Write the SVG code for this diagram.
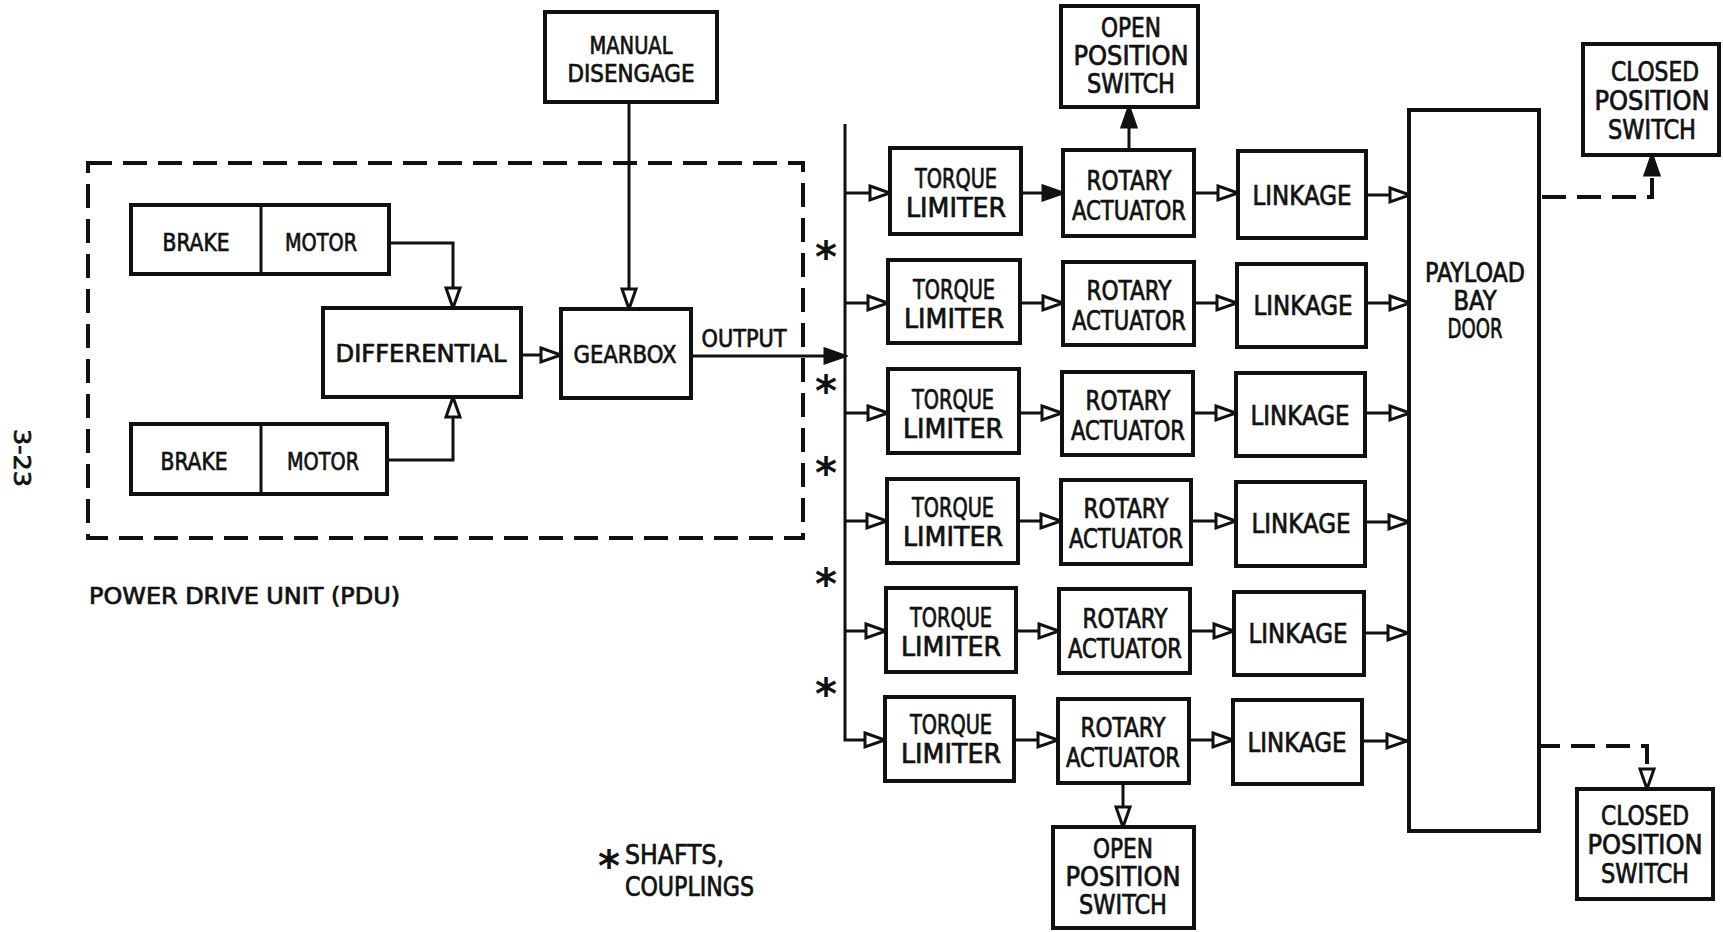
<svg xmlns="http://www.w3.org/2000/svg" width="1723" height="932" viewBox="0 0 1723 932">
<style>
.box{fill:#fff;stroke:#111;stroke-width:4}
.t{font-family:"Liberation Sans Narrow","DejaVu Sans Condensed","Liberation Sans",sans-serif;font-size:27px;text-anchor:middle;fill:#111;stroke:#111;stroke-width:0.7}
.s{font-size:25px}
.ln{fill:none;stroke:#111;stroke-width:3}
.dash{stroke-dasharray:24 11;stroke-width:4}
.ast{font-family:"DejaVu Sans",sans-serif;font-size:42px;font-weight:bold;text-anchor:middle;fill:#111}
</style>
<defs>
<marker id="ao" viewBox="-3 -3 26 20" refX="20" refY="7" markerWidth="26" markerHeight="20" markerUnits="userSpaceOnUse" orient="auto"><path d="M0,0 L20,7 L0,14 Z" fill="#fff" stroke="#111" stroke-width="3"/></marker>
<marker id="af" viewBox="-3 -3 26 20" refX="20" refY="7" markerWidth="26" markerHeight="20" markerUnits="userSpaceOnUse" orient="auto"><path d="M0,0 L20,7 L0,14 Z" fill="#111" stroke="#111" stroke-width="3"/></marker>
</defs>
<rect width="1723" height="932" fill="#fff"/>

<!-- PDU boundary -->
<g id="pdu">
<rect x="88" y="163" width="715" height="375" fill="none" stroke="#111" stroke-width="4" stroke-dasharray="24 11"/>
<text class="t" x="89" y="604" style="text-anchor:start;font-size:23px" textLength="311" lengthAdjust="spacingAndGlyphs">POWER DRIVE UNIT (PDU)</text>
</g>

<g id="page-number"><text class="t" style="font-size:23px" transform="translate(14,458) rotate(90)" textLength="58" lengthAdjust="spacingAndGlyphs">3-23</text></g>

<!-- connectors -->
<g id="connectors">
<path class="ln" d="M629,102 V309" marker-end="url(#ao)"/>
<path class="ln" d="M389,243 H453 V308" marker-end="url(#ao)"/>
<path class="ln" d="M387,460 H453 V397" marker-end="url(#ao)"/>
<path class="ln" d="M521,355 H561" marker-end="url(#ao)"/>
<path class="ln" d="M691,356 H845" marker-end="url(#af)"/>
<path class="ln" d="M845,124 V740 H885" marker-end="url(#ao)"/>
<path class="ln" d="M845,193 H890" marker-end="url(#ao)"/>
<path class="ln" d="M845,303 H888" marker-end="url(#ao)"/>
<path class="ln" d="M845,413 H888" marker-end="url(#ao)"/>
<path class="ln" d="M845,521 H887" marker-end="url(#ao)"/>
<path class="ln" d="M845,631 H886" marker-end="url(#ao)"/>
<!-- TL to RA -->
<path class="ln" d="M1021,193 H1063" marker-end="url(#af)"/>
<path class="ln" d="M1020,303 H1063" marker-end="url(#ao)"/>
<path class="ln" d="M1019,413 H1062" marker-end="url(#ao)"/>
<path class="ln" d="M1018,521 H1061" marker-end="url(#ao)"/>
<path class="ln" d="M1016,631 H1059" marker-end="url(#ao)"/>
<path class="ln" d="M1014,740 H1058" marker-end="url(#ao)"/>
<!-- RA to LK -->
<path class="ln" d="M1194,193 H1238" marker-end="url(#ao)"/>
<path class="ln" d="M1194,303 H1237" marker-end="url(#ao)"/>
<path class="ln" d="M1193,413 H1236" marker-end="url(#ao)"/>
<path class="ln" d="M1191,521 H1236" marker-end="url(#ao)"/>
<path class="ln" d="M1190,631 H1234" marker-end="url(#ao)"/>
<path class="ln" d="M1189,740 H1233" marker-end="url(#ao)"/>
<!-- LK to PBD -->
<path class="ln" d="M1366,195 H1410" marker-end="url(#ao)"/>
<path class="ln" d="M1366,303 H1410" marker-end="url(#ao)"/>
<path class="ln" d="M1365,413 H1410" marker-end="url(#ao)"/>
<path class="ln" d="M1365,522 H1409" marker-end="url(#ao)"/>
<path class="ln" d="M1364,633 H1408" marker-end="url(#ao)"/>
<path class="ln" d="M1362,741 H1407" marker-end="url(#ao)"/>
<!-- switches -->
<path class="ln" d="M1129,150 V107" marker-end="url(#af)"/>
<path class="ln" d="M1123,783 V827" marker-end="url(#ao)"/>
<path class="ln dash" d="M1542,197 H1652 V155" marker-end="url(#af)"/>
<path class="ln dash" d="M1536,746 H1647 V789" marker-end="url(#ao)"/>
</g>

<g id="shaft-marks">
<text class="ast" x="826" y="272">*</text>
<text class="ast" x="826" y="406">*</text>
<text class="ast" x="826" y="488">*</text>
<text class="ast" x="826" y="599">*</text>
<text class="ast" x="826" y="709">*</text>
</g>

<g id="legend">
<text class="ast" x="609" y="881">*</text>
<text class="t" x="625" y="864" style="text-anchor:start" textLength="99" lengthAdjust="spacingAndGlyphs">SHAFTS,</text>
<text class="t" x="625" y="896" style="text-anchor:start" textLength="129" lengthAdjust="spacingAndGlyphs">COUPLINGS</text>
</g>

<g id="manual-disengage"><rect class="box" x="545" y="12" width="172" height="90"/>
<text class="t s" x="631" y="54" textLength="83" lengthAdjust="spacingAndGlyphs">MANUAL</text>
<text class="t s" x="631" y="82" textLength="127" lengthAdjust="spacingAndGlyphs">DISENGAGE</text></g>

<g id="brake-motor-1"><rect class="box" x="131" y="205" width="258" height="69"/><line x1="261" y1="205" x2="261" y2="274" stroke="#111" stroke-width="3"/>
<text class="t s" x="196" y="251" textLength="67" lengthAdjust="spacingAndGlyphs">BRAKE</text>
<text class="t s" x="321" y="251" textLength="72" lengthAdjust="spacingAndGlyphs">MOTOR</text></g>

<g id="brake-motor-2"><rect class="box" x="131" y="424" width="256" height="70"/><line x1="261" y1="424" x2="261" y2="494" stroke="#111" stroke-width="3"/>
<text class="t s" x="194" y="470" textLength="67" lengthAdjust="spacingAndGlyphs">BRAKE</text>
<text class="t s" x="323" y="470" textLength="72" lengthAdjust="spacingAndGlyphs">MOTOR</text></g>

<g id="differential"><rect class="box" x="323" y="308" width="198" height="89"/>
<text class="t s" x="421" y="362" textLength="171" lengthAdjust="spacingAndGlyphs">DIFFERENTIAL</text></g>

<g id="gearbox"><rect class="box" x="561" y="309" width="130" height="89"/>
<text class="t s" x="625" y="363" textLength="103" lengthAdjust="spacingAndGlyphs">GEARBOX</text></g>

<g id="output-label"><text class="t s" x="744" y="347" textLength="85" lengthAdjust="spacingAndGlyphs">OUTPUT</text></g>

<!-- rows -->
<g id="torque-limiter-1"><rect class="box" x="890" y="148" width="131" height="86"/><text class="t" x="956" y="188" textLength="82" lengthAdjust="spacingAndGlyphs">TORQUE</text><text class="t" x="956" y="217" textLength="100" lengthAdjust="spacingAndGlyphs">LIMITER</text></g>
<g id="rotary-actuator-1"><rect class="box" x="1063" y="150" width="131" height="86"/><text class="t" x="1129" y="190" textLength="85" lengthAdjust="spacingAndGlyphs">ROTARY</text><text class="t" x="1129" y="220" textLength="114" lengthAdjust="spacingAndGlyphs">ACTUATOR</text></g>
<g id="linkage-1"><rect class="box" x="1238" y="151" width="128" height="87"/><text class="t" x="1302" y="205" textLength="99" lengthAdjust="spacingAndGlyphs">LINKAGE</text></g>

<g id="torque-limiter-2"><rect class="box" x="888" y="260" width="132" height="83"/><text class="t" x="954" y="299" textLength="82" lengthAdjust="spacingAndGlyphs">TORQUE</text><text class="t" x="954" y="328" textLength="100" lengthAdjust="spacingAndGlyphs">LIMITER</text></g>
<g id="rotary-actuator-2"><rect class="box" x="1063" y="262" width="131" height="83"/><text class="t" x="1129" y="300" textLength="85" lengthAdjust="spacingAndGlyphs">ROTARY</text><text class="t" x="1129" y="330" textLength="114" lengthAdjust="spacingAndGlyphs">ACTUATOR</text></g>
<g id="linkage-2"><rect class="box" x="1237" y="264" width="129" height="83"/><text class="t" x="1303" y="315" textLength="99" lengthAdjust="spacingAndGlyphs">LINKAGE</text></g>

<g id="torque-limiter-3"><rect class="box" x="888" y="369" width="131" height="84"/><text class="t" x="953" y="409" textLength="82" lengthAdjust="spacingAndGlyphs">TORQUE</text><text class="t" x="953" y="438" textLength="100" lengthAdjust="spacingAndGlyphs">LIMITER</text></g>
<g id="rotary-actuator-3"><rect class="box" x="1062" y="372" width="131" height="83"/><text class="t" x="1128" y="410" textLength="85" lengthAdjust="spacingAndGlyphs">ROTARY</text><text class="t" x="1128" y="440" textLength="114" lengthAdjust="spacingAndGlyphs">ACTUATOR</text></g>
<g id="linkage-3"><rect class="box" x="1236" y="373" width="129" height="83"/><text class="t" x="1300" y="425" textLength="99" lengthAdjust="spacingAndGlyphs">LINKAGE</text></g>

<g id="torque-limiter-4"><rect class="box" x="887" y="479" width="131" height="84"/><text class="t" x="953" y="517" textLength="82" lengthAdjust="spacingAndGlyphs">TORQUE</text><text class="t" x="953" y="546" textLength="100" lengthAdjust="spacingAndGlyphs">LIMITER</text></g>
<g id="rotary-actuator-4"><rect class="box" x="1061" y="480" width="130" height="84"/><text class="t" x="1126" y="518" textLength="85" lengthAdjust="spacingAndGlyphs">ROTARY</text><text class="t" x="1126" y="548" textLength="114" lengthAdjust="spacingAndGlyphs">ACTUATOR</text></g>
<g id="linkage-4"><rect class="box" x="1236" y="482" width="129" height="84"/><text class="t" x="1301" y="533" textLength="99" lengthAdjust="spacingAndGlyphs">LINKAGE</text></g>

<g id="torque-limiter-5"><rect class="box" x="886" y="588" width="130" height="84"/><text class="t" x="951" y="627" textLength="82" lengthAdjust="spacingAndGlyphs">TORQUE</text><text class="t" x="951" y="656" textLength="100" lengthAdjust="spacingAndGlyphs">LIMITER</text></g>
<g id="rotary-actuator-5"><rect class="box" x="1059" y="589" width="131" height="84"/><text class="t" x="1125" y="628" textLength="85" lengthAdjust="spacingAndGlyphs">ROTARY</text><text class="t" x="1125" y="658" textLength="114" lengthAdjust="spacingAndGlyphs">ACTUATOR</text></g>
<g id="linkage-5"><rect class="box" x="1234" y="592" width="130" height="83"/><text class="t" x="1298" y="643" textLength="99" lengthAdjust="spacingAndGlyphs">LINKAGE</text></g>

<g id="torque-limiter-6"><rect class="box" x="885" y="697" width="129" height="84"/><text class="t" x="951" y="734" textLength="82" lengthAdjust="spacingAndGlyphs">TORQUE</text><text class="t" x="951" y="763" textLength="100" lengthAdjust="spacingAndGlyphs">LIMITER</text></g>
<g id="rotary-actuator-6"><rect class="box" x="1058" y="699" width="131" height="84"/><text class="t" x="1123" y="737" textLength="85" lengthAdjust="spacingAndGlyphs">ROTARY</text><text class="t" x="1123" y="767" textLength="114" lengthAdjust="spacingAndGlyphs">ACTUATOR</text></g>
<g id="linkage-6"><rect class="box" x="1233" y="700" width="129" height="84"/><text class="t" x="1297" y="752" textLength="99" lengthAdjust="spacingAndGlyphs">LINKAGE</text></g>

<g id="payload-bay-door"><rect class="box" x="1409" y="110" width="130" height="721"/>
<text class="t" x="1475" y="282" textLength="100" lengthAdjust="spacingAndGlyphs">PAYLOAD</text>
<text class="t" x="1475" y="310" textLength="43" lengthAdjust="spacingAndGlyphs">BAY</text>
<text class="t" x="1475" y="338" textLength="55" lengthAdjust="spacingAndGlyphs">DOOR</text></g>

<g id="open-switch-top"><rect class="box" x="1061" y="6" width="137" height="101"/>
<text class="t" x="1131" y="37" textLength="60" lengthAdjust="spacingAndGlyphs">OPEN</text>
<text class="t" x="1131" y="65" textLength="115" lengthAdjust="spacingAndGlyphs">POSITION</text>
<text class="t" x="1131" y="93" textLength="88" lengthAdjust="spacingAndGlyphs">SWITCH</text></g>

<g id="closed-switch-top"><rect class="box" x="1583" y="44" width="136" height="111"/>
<text class="t" x="1655" y="81" textLength="88" lengthAdjust="spacingAndGlyphs">CLOSED</text>
<text class="t" x="1652" y="110" textLength="115" lengthAdjust="spacingAndGlyphs">POSITION</text>
<text class="t" x="1652" y="139" textLength="88" lengthAdjust="spacingAndGlyphs">SWITCH</text></g>

<g id="open-switch-bottom"><rect class="box" x="1053" y="827" width="141" height="101"/>
<text class="t" x="1123" y="858" textLength="60" lengthAdjust="spacingAndGlyphs">OPEN</text>
<text class="t" x="1123" y="886" textLength="115" lengthAdjust="spacingAndGlyphs">POSITION</text>
<text class="t" x="1123" y="914" textLength="88" lengthAdjust="spacingAndGlyphs">SWITCH</text></g>

<g id="closed-switch-bottom"><rect class="box" x="1577" y="789" width="136" height="110"/>
<text class="t" x="1645" y="825" textLength="88" lengthAdjust="spacingAndGlyphs">CLOSED</text>
<text class="t" x="1645" y="854" textLength="115" lengthAdjust="spacingAndGlyphs">POSITION</text>
<text class="t" x="1645" y="883" textLength="88" lengthAdjust="spacingAndGlyphs">SWITCH</text></g>
</svg>
